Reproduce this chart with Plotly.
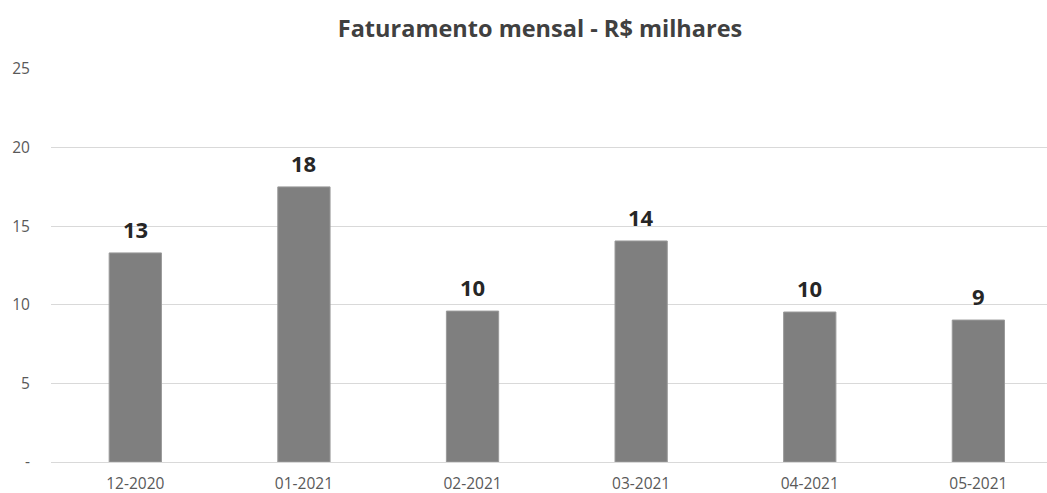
import plotly.graph_objects as go

months = ["12-2020", "01-2021", "02-2021", "03-2021", "04-2021", "05-2021"]
revenue = [13.3, 17.5, 9.6, 14.06, 9.54, 9.03]
labels = ["13", "18", "10", "14", "10", "9"]
y_tick_vals = [0, 5, 10, 15, 20, 25]
y_tick_text = ["-", "5", "10", "15", "20", "25"]
title_text = "Faturamento mensal - R$ milhares"

fig = go.Figure()
fig.add_trace(go.Bar(
    x=months, y=revenue,
    width=0.31,
    marker=dict(color="#7f7f7f", line=dict(color="#9a9a9a", width=1)),
    hoverinfo="x+y",
))

for m, v, t in zip(months, revenue, labels):
    fig.add_annotation(
        x=m, y=v, text=t,
        showarrow=False, yanchor="middle", yshift=24,
        font=dict(family="Open Sans", size=22, color="#262626", weight="bold"),
    )

fig.update_layout(
    width=1047, height=493,
    paper_bgcolor="white", plot_bgcolor="white",
    margin=dict(l=51, r=0, t=69, b=31, autoexpand=False),
    showlegend=False,
    title=dict(
        text=title_text, xref="container", x=540/1047, xanchor="center",
        yref="container", y=1 - 29/493, yanchor="middle",
        font=dict(family="Open Sans", size=23.5, color="#404040", weight="bold"),
    ),
    font=dict(family="Open Sans", size=15, color="#595959"),
)
fig.update_xaxes(
    type="category", range=[-0.5, 5.407], automargin=False,
    showgrid=False, showline=False, zeroline=False,
    ticks="outside", ticklen=7, tickcolor="rgba(0,0,0,0)",
    tickfont=dict(size=15.5, color="#595959"),
)
fig.update_yaxes(
    range=[0, 25], tickvals=y_tick_vals, ticktext=y_tick_text, automargin=False,
    showgrid=True, gridcolor="#d9d9d9", gridwidth=1,
    zeroline=True, zerolinecolor="#d9d9d9", zerolinewidth=1,
    showline=False,
    ticks="outside", ticklen=17, tickcolor="rgba(0,0,0,0)",
    tickfont=dict(size=15.5, color="#595959"),
)

fig.write_html("out.html", config={"displayModeBar": False},
               post_script="document.body.style.margin='0';")
